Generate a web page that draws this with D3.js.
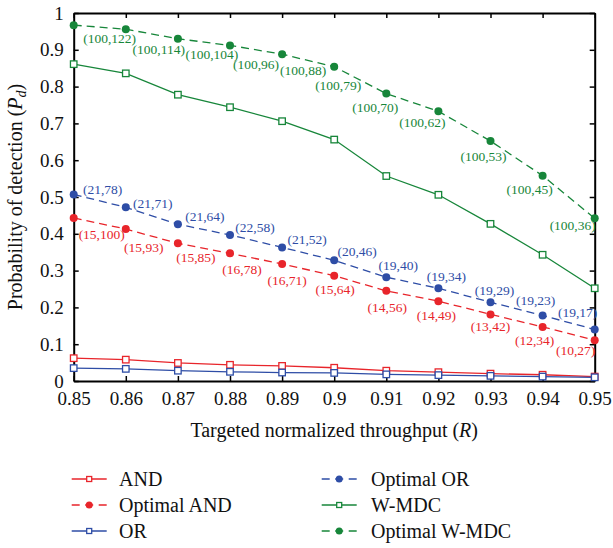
<!DOCTYPE html>
<html>
<head>
<meta charset="utf-8">
<script src="https://cdn.jsdelivr.net/npm/d3@7"></script>
<style>
  html, body { margin: 0; padding: 0; background: #fff; }
  svg, svg text { font-family: "Liberation Serif", "Times New Roman", Times, serif; }
</style>
</head>
<body>
<div id="chart"></div>
<script>
// ---------- data ----------
const throughput = [0.85, 0.86, 0.87, 0.88, 0.89, 0.90, 0.91, 0.92, 0.93, 0.94, 0.95];
const andPd        = [0.062, 0.058, 0.049, 0.044, 0.041, 0.036, 0.028, 0.024, 0.020, 0.017, 0.012];
const optimalAndPd = [0.443, 0.413, 0.374, 0.347, 0.318, 0.286, 0.245, 0.217, 0.181, 0.147, 0.111];
const orPd         = [0.035, 0.033, 0.028, 0.025, 0.023, 0.022, 0.018, 0.016, 0.014, 0.012, 0.010];
const optimalOrPd  = [0.507, 0.472, 0.426, 0.397, 0.363, 0.328, 0.282, 0.252, 0.214, 0.178, 0.140];
const wmdcPd       = [0.861, 0.836, 0.778, 0.744, 0.706, 0.656, 0.557, 0.506, 0.427, 0.343, 0.252];
const optimalWmdcPd= [0.967, 0.956, 0.930, 0.912, 0.888, 0.854, 0.781, 0.733, 0.652, 0.558, 0.442];

const optimalAndLabels  = ["(15,100)", "(15,93)", "(15,85)", "(16,78)", "(16,71)", "(15,64)", "(14,56)", "(14,49)", "(13,42)", "(12,34)", "(10,27)"];
const optimalOrLabels   = ["(21,78)", "(21,71)", "(21,64)", "(22,58)", "(21,52)", "(20,46)", "(19,40)", "(19,34)", "(19,29)", "(19,23)", "(19,17)"];
const optimalWmdcLabels = ["(100,122)", "(100,114)", "(100,104)", "(100,96)", "(100,88)", "(100,79)", "(100,70)", "(100,62)", "(100,53)", "(100,45)", "(100,36)"];

const xTickValues = [0.85, 0.86, 0.87, 0.88, 0.89, 0.90, 0.91, 0.92, 0.93, 0.94, 0.95];
const xTickLabels = ["0.85", "0.86", "0.87", "0.88", "0.89", "0.9", "0.91", "0.92", "0.93", "0.94", "0.95"];
const yTickValues = [0, 0.1, 0.2, 0.3, 0.4, 0.5, 0.6, 0.7, 0.8, 0.9, 1];
const yTickLabels = ["0", "0.1", "0.2", "0.3", "0.4", "0.5", "0.6", "0.7", "0.8", "0.9", "1"];

const seriesNames = ["AND", "Optimal AND", "OR", "Optimal OR", "W-MDC", "Optimal W-MDC"];

// ---------- layout / style (not data) ----------
const FONT = "'Liberation Serif', 'Times New Roman', Times, serif";
const W = 613, H = 548;
const plot = { left: 73.7, right: 594.7, top: 13, bottom: 381 };
const RED = "#e8252b", BLUE = "#2e4da6", GREEN = "#17863a";

// pixel offsets of the annotation text centres from their points
const andLabelOffsets  = [[28,16],[18,18],[18,14],[12,16],[5,16],[1,14],[1,16],[-2,14],[0,12],[-8,13],[-19,10]];
const orLabelOffsets   = [[29,-5],[27,-4],[27,-8],[25,-8],[25,-8],[23,-9],[12,-12],[8,-12],[4,-12],[-7,-15],[-17,-17]];
const wmdcLabelOffsets = [[36,13],[33,20],[34,16],[26,19],[21,16],[4,19],[-11,14],[-16,11],[-7,15],[-13,14],[-22,7]];

const series = [
  { name: seriesNames[0], values: andPd,         color: RED,   dashed: false, marker: "square" },
  { name: seriesNames[1], values: optimalAndPd,  color: RED,   dashed: true,  marker: "dot", labels: optimalAndLabels,  offsets: andLabelOffsets },
  { name: seriesNames[2], values: orPd,          color: BLUE,  dashed: false, marker: "square" },
  { name: seriesNames[3], values: optimalOrPd,   color: BLUE,  dashed: true,  marker: "dot", labels: optimalOrLabels,   offsets: orLabelOffsets },
  { name: seriesNames[4], values: wmdcPd,        color: GREEN, dashed: false, marker: "square" },
  { name: seriesNames[5], values: optimalWmdcPd, color: GREEN, dashed: true,  marker: "dot", labels: optimalWmdcLabels, offsets: wmdcLabelOffsets },
];

const svg = d3.select("#chart").append("svg").attr("width", W).attr("height", H)
  .attr("font-family", FONT);

const x = d3.scaleLinear().domain([0.85, 0.95]).range([plot.left, plot.right]);
const y = d3.scaleLinear().domain([0, 1]).range([plot.bottom, plot.top]);

// ---------- axes ----------
const tickLen = 5;
const gx = svg.append("g").attr("transform", `translate(0,${plot.bottom})`)
  .call(d3.axisBottom(x).tickValues(xTickValues).tickFormat((d, i) => xTickLabels[i])
    .tickSizeInner(-tickLen).tickSizeOuter(0).tickPadding(11));
const gy = svg.append("g").attr("transform", `translate(${plot.left},0)`)
  .call(d3.axisLeft(y).tickValues(yTickValues).tickFormat((d, i) => yTickLabels[i])
    .tickSizeInner(-tickLen).tickSizeOuter(0).tickPadding(10));
const gt = svg.append("g").attr("transform", `translate(0,${plot.top})`)
  .call(d3.axisTop(x).tickValues(xTickValues).tickFormat("").tickSizeInner(-tickLen).tickSizeOuter(0));
const gr = svg.append("g").attr("transform", `translate(${plot.right},0)`)
  .call(d3.axisRight(y).tickValues(yTickValues).tickFormat("").tickSizeInner(-tickLen).tickSizeOuter(0));

[gx, gy, gt, gr].forEach(g => {
  g.attr("font-family", FONT);
  g.selectAll(".domain").attr("stroke", "#000").attr("stroke-width", 2);
  g.selectAll(".tick line").attr("stroke", "#000").attr("stroke-width", 1.5);
  g.selectAll("text").attr("font-family", FONT).attr("font-size", 19).attr("fill", "#111");
});

// axis titles
const xt = svg.append("text").attr("x", (plot.left + plot.right) / 2).attr("y", 437)
  .attr("text-anchor", "middle").attr("font-size", 20).attr("font-family", FONT).attr("fill", "#111");
xt.append("tspan").text("Targeted normalized throughput (");
xt.append("tspan").attr("font-style", "italic").text("R");
xt.append("tspan").text(")");

const yt = svg.append("text").attr("transform", `translate(22,${(plot.top + plot.bottom) / 2}) rotate(-90)`)
  .attr("text-anchor", "middle").attr("font-size", 20).attr("font-family", FONT).attr("fill", "#111");
yt.append("tspan").text("Probability of detection (");
yt.append("tspan").attr("font-style", "italic").text("P");
yt.append("tspan").attr("font-style", "italic").attr("font-size", 14).attr("dy", 4).text("d");
yt.append("tspan").attr("dy", -4).text(")");

// ---------- series ----------
const line = d3.line().x((d, i) => x(throughput[i])).y(d => y(d));

function drawMarker(g, type, cx, cy, color, size) {
  if (type === "square") {
    g.append("rect").attr("x", cx - size / 2).attr("y", cy - size / 2)
      .attr("width", size).attr("height", size)
      .attr("fill", "#fff").attr("stroke", color).attr("stroke-width", 1.3);
  } else {
    g.append("circle").attr("cx", cx).attr("cy", cy).attr("r", size / 2).attr("fill", color);
  }
}

const order = [0, 2, 4, 1, 3, 5];
order.forEach(k => {
  const s = series[k];
  const g = svg.append("g");
  g.append("path").datum(s.values).attr("d", line)
    .attr("fill", "none").attr("stroke", s.color).attr("stroke-width", 1.3)
    .attr("stroke-dasharray", s.dashed ? "8,5" : null);
  s.values.forEach((v, i) => {
    drawMarker(g, s.marker, x(throughput[i]), y(v), s.color, s.marker === "dot" ? 8 : 6.5);
  });
  if (s.labels) {
    s.labels.forEach((t, i) => {
      const o = s.offsets[i];
      g.append("text").attr("x", x(throughput[i]) + o[0]).attr("y", y(s.values[i]) + o[1])
        .attr("dy", "0.35em").attr("text-anchor", "middle").attr("font-family", FONT)
        .attr("font-size", 13.5).attr("fill", s.color).text(t);
    });
  }
});

// ---------- legend ----------
const legendCols = [{ lx: 71.7, tx: 119 }, { lx: 321.7, tx: 371 }];
const legendRows = [479, 505, 531];
series.forEach((s, k) => {
  const col = legendCols[Math.floor(k / 3)];
  const ry = legendRows[k % 3];
  const g = svg.append("g");
  g.append("line").attr("x1", col.lx).attr("x2", col.lx + 35).attr("y1", ry).attr("y2", ry)
    .attr("stroke", s.color).attr("stroke-width", 1.3)
    .attr("stroke-dasharray", s.dashed ? "8,5.5" : null);
  drawMarker(g, s.marker, col.lx + 17.5, ry, s.color, s.marker === "dot" ? 7 : 5);
  g.append("text").attr("x", col.tx).attr("y", ry).attr("dy", "0.35em").attr("font-family", FONT)
    .attr("font-size", 20).attr("fill", "#111").text(s.name);
});
</script>
</body>
</html>
